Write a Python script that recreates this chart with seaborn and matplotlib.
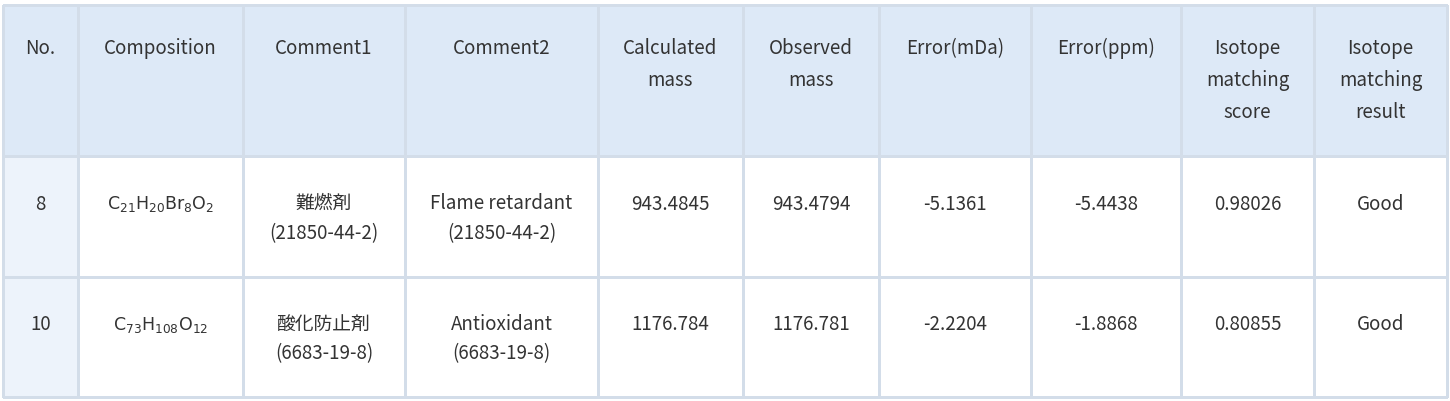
import numpy as np
import matplotlib
matplotlib.use("Agg")
import matplotlib.pyplot as plt
import seaborn as sns
from matplotlib.colors import ListedColormap

headers = ["No.", "Composition", "Comment1", "Comment2", "Calculated\nmass", "Observed\nmass",
           "Error(mDa)", "Error(ppm)", "Isotope\nmatching\nscore", "Isotope\nmatching\nresult"]
nos = ["8", "10"]
compositions = [r"C$_{21}$H$_{20}$Br$_{8}$O$_{2}$", r"C$_{73}$H$_{108}$O$_{12}$"]
comment1 = ["難燃剤\n(21850-44-2)", "酸化防止剤\n(6683-19-8)"]
comment2 = ["Flame retardant\n(21850-44-2)", "Antioxidant\n(6683-19-8)"]
calc_mass = ["943.4845", "1176.784"]
obs_mass = ["943.4794", "1176.781"]
err_mda = ["-5.1361", "-2.2204"]
err_ppm = ["-5.4438", "-1.8868"]
iso_score = ["0.98026", "0.80855"]
iso_result = ["Good", "Good"]

col_edges = [3, 78, 243, 405, 598, 743, 879, 1031, 1181, 1314, 1447]
row_edges = [5, 156, 277, 397]

sns.set_theme(style="white")
plt.rcParams['font.family'] = ['Noto Sans CJK JP', 'DejaVu Sans']

fig = plt.figure(figsize=(14.5, 4.01), dpi=100)
ax = fig.add_axes([0, 0, 1, 1])
ax.set_xlim(0, 1450)
ax.set_ylim(401, 0)
ax.axis("off")

kind = np.full((3, 10), 2)
kind[0, :] = 0
kind[1:, 0] = 1
cmap = ListedColormap(["#dde9f7", "#edf3fb", "#ffffff"])
ax.pcolormesh(col_edges, row_edges, kind, cmap=cmap, vmin=-0.5, vmax=2.5,
              edgecolor="#d3dde9", linewidth=1)

txt = "#333333"
cx = [(col_edges[i] + col_edges[i + 1]) / 2 for i in range(10)]
for i, h in enumerate(headers):
    ax.text(cx[i], 38, h, ha="center", va="top", fontsize=13.5, color=txt, linespacing=1.7)

rows = list(zip(nos, compositions, comment1, comment2, calc_mass, obs_mass,
                err_mda, err_ppm, iso_score, iso_result))
for r, row in enumerate(rows):
    cy = (row_edges[r + 1] + row_edges[r + 2]) / 2
    for i, v in enumerate(row):
        if i == 1:
            ax.text(cx[i], cy - 12, v, ha="center", va="center", fontsize=12.5, color=txt,
                    family="DejaVu Sans")
        elif "\n" in v:
            ax.text(cx[i], cy + 2, v, ha="center", va="center", fontsize=13.5, color=txt, linespacing=1.55)
        else:
            ax.text(cx[i], cy - 12, v, ha="center", va="center", fontsize=13.5, color=txt)

fig.savefig("out.png", dpi=100)
